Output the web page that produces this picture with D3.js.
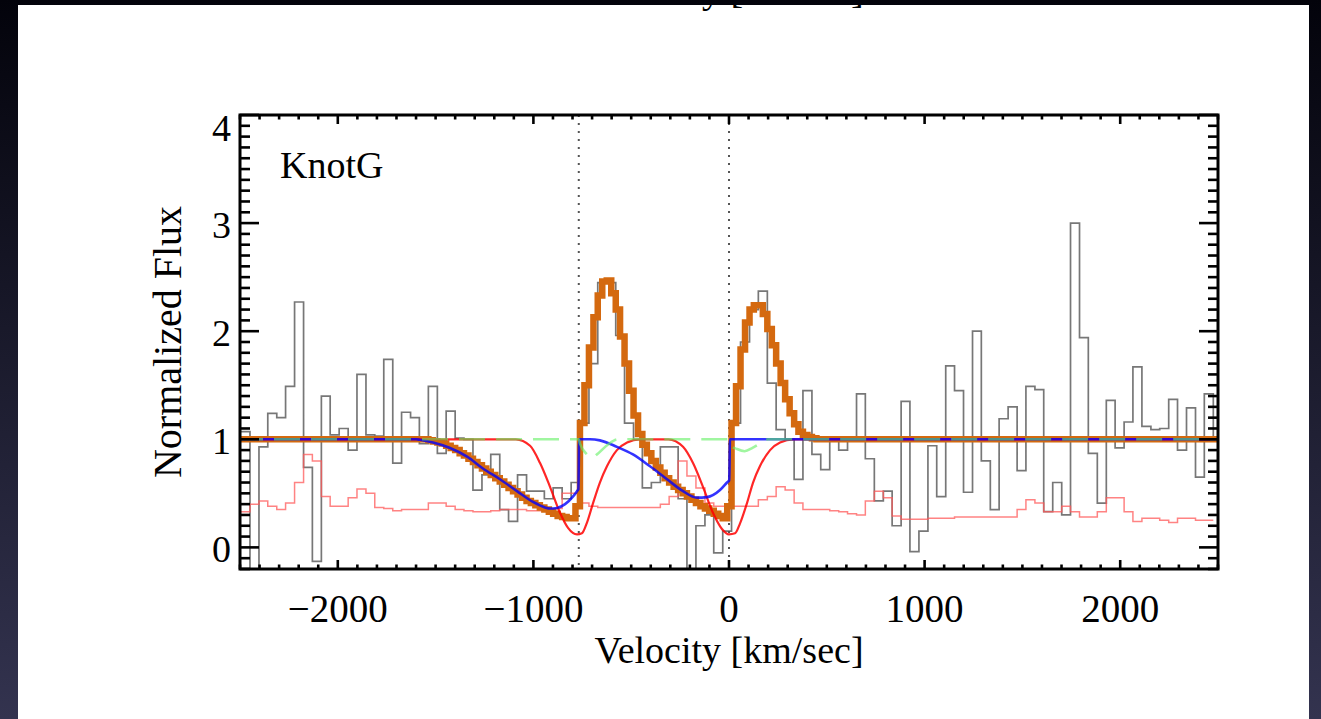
<!DOCTYPE html>
<html>
<head>
<meta charset="utf-8">
<script src="https://cdn.jsdelivr.net/npm/d3@7"></script>
<style>
  html, body { margin: 0; padding: 0; background: #000; }
  svg { display: block; }
  text { font-family: "Liberation Serif", "Times New Roman", serif; fill: #000; }
</style>
</head>
<body>
<svg id="chart" width="1321" height="719"></svg>
<script>
// ---------------- data ----------------
// Observed spectrum: bin edges (km/s) and normalized flux per bin
const binEdges = [-2495,-2449,-2403,-2358,-2312,-2267,-2221,-2175,-2130,-2084,-2039,
  -1993,-1947,-1902,-1856,-1811,-1765,-1719,-1674,-1628,-1583,-1537,-1491,-1446,-1400,
  -1355,-1309,-1263,-1218,-1172,-1127,-1081,-1035,-990,-944,-899,-853,-807,-762,-716,
  -671,-625,-579,-534,-488,-443,-397,-351,-306,-260,-215,-169,-123,-78,-32,13,59,105,
  150,196,241,287,333,378,424,469,515,561,606,652,697,743,789,834,880,925,971,1017,
  1062,1108,1153,1199,1245,1290,1336,1381,1427,1473,1518,1564,1609,1655,1701,1746,
  1792,1837,1883,1929,1974,2020,2065,2111,2157,2202,2248,2293,2339,2385,2430,2476,2521];

const fluxObs = [1.07,-0.25,0.93,1.24,1.20,1.49,2.27,0.74,-0.13,1.40,1.04,
  1.10,0.90,1.60,1.04,1.03,1.74,0.78,1.25,1.20,0.96,1.49,
  0.87,1.26,1.01,1.00,0.53,0.67,0.86,0.35,0.24,0.67,0.52,0.52,0.45,0.55,0.45,0.60,
  1.15,1.70,2.45,2.45,1.96,1.15,1.00,0.55,0.60,0.93,0.93,0.45,-0.30,0.20,0.30,-0.05,0.15,
  1.15,1.90,2.20,2.37,1.52,1.09,1.00,0.63,
  1.45,0.86,0.72,1.00,0.90,1.00,1.42,0.82,0.43,0.52,0.20,1.35,-0.04,0.15,0.94,0.47,
  1.68,1.45,0.51,2.00,0.80,0.35,1.19,1.30,0.71,1.49,1.46,0.33,0.60,0.30,3.00,1.94,
  0.87,0.41,1.36,0.92,1.16,1.67,1.12,1.09,1.10,1.37,0.90,1.29,0.65,1.42,1.00];

// 1-sigma error spectrum on the same bins
const fluxErr = [0.33,0.40,0.43,0.38,0.35,0.41,0.60,0.86,0.80,0.47,0.38,
  0.38,0.46,0.54,0.50,0.37,0.36,0.34,0.35,0.35,0.35,0.41,
  0.41,0.38,0.35,0.34,0.33,0.33,0.34,0.35,0.35,0.35,0.34,0.34,0.35,0.36,0.50,0.50,
  0.41,0.38,0.37,0.37,0.37,0.37,0.37,0.37,0.37,0.40,0.47,0.80,0.66,0.55,0.41,0.38,0.38,
  0.38,0.38,0.38,0.44,0.47,0.56,0.53,
  0.41,0.35,0.35,0.35,0.34,0.33,0.31,0.30,0.43,0.52,0.46,0.29,0.26,0.26,0.26,0.27,
  0.27,0.27,0.28,0.28,0.28,0.28,0.28,0.28,0.28,0.35,0.44,0.41,0.33,0.33,0.38,0.33,
  0.28,0.28,0.33,0.46,0.46,0.33,0.24,0.27,0.27,0.25,0.23,0.27,0.27,0.25,0.25];

// Total model (emission + absorption), sampled at half-bin steps
const modelVel = [-2500,-1628,-1605,-1583,-1560,-1537,-1514,-1491,-1469,-1446,-1423,-1400,
  -1377,-1355,-1332,-1309,-1286,-1263,-1241,-1218,-1195,-1172,-1149,-1127,-1104,-1081,
  -1058,-1035,-1013,-990,-967,-944,-921,-899,-876,-853,-830,-807,-785,-762,-739,-716,
  -693,-671,-648,-625,-602,-579,-557,-534,-511,-488,-465,-443,-420,-397,-374,-351,-329,
  -306,-283,-260,-237,-215,-192,-169,-146,-123,-101,-78,-55,-32,-9,13,36,59,82,105,127,
  150,173,196,219,241,264,287,310,333,355,378,401,424,447,469,2500];
const modelFlux = [1.00,1.00,1.00,1.00,1.00,0.99,0.98,0.97,0.96,0.94,0.92,0.90,
  0.87,0.85,0.82,0.79,0.76,0.73,0.70,0.67,0.64,0.61,0.58,0.55,0.52,0.49,
  0.46,0.43,0.41,0.39,0.37,0.35,0.33,0.31,0.29,0.28,0.27,0.27,0.38,1.15,1.50,1.85,
  2.13,2.33,2.46,2.47,2.35,2.20,1.95,1.70,1.45,1.22,1.05,0.95,0.87,0.80,0.74,0.69,0.64,
  0.60,0.56,0.53,0.50,0.47,0.44,0.41,0.38,0.36,0.34,0.31,0.29,0.27,0.38,1.15,1.49,1.83,2.08,2.20,2.24,
  2.24,2.16,2.02,1.87,1.70,1.52,1.37,1.24,1.14,1.07,1.04,1.02,1.01,1.00,1.00,1.00];

// Outflow absorption component
const outflowVel  = [-2500,-1600,-1580,-1513,-1426,-1339,-1258,-1171,-1084,-1002,-941,-915,-879,-838,-798,-777,-770,
  -766,-711,-660,-573,-491,-404,-317,-235,-164,-112,-46,-10,1,5,2500];
const outflowFlux = [1,1,0.995,0.97,0.92,0.84,0.73,0.63,0.52,0.42,0.37,0.36,0.365,0.40,0.47,0.52,0.54,
  1,1,0.99,0.93,0.86,0.75,0.63,0.52,0.46,0.465,0.53,0.60,0.62,1,1];

// Systemic absorption doublet
const systemicVel  = [-2500,-1090,-1017,-966,-915,-864,-823,-777,-752,-726,-695,-660,-624,-573,-521,-455,
  -310,-235,-184,-133,-82,-36,0,31,56,92,123,158,210,261,330,2500];
const systemicFlux = [1,1,0.94,0.78,0.56,0.32,0.18,0.12,0.13,0.23,0.41,0.60,0.75,0.90,0.97,1,
  1,0.93,0.78,0.56,0.32,0.17,0.12,0.13,0.22,0.41,0.60,0.75,0.90,0.97,1,1];

// Infilling component
const infillVel  = [-2500,-768,-762,-726,-700,-675,-620,-568,-2,3,41,80,120,158,200,2500];
const infillFlux = [1,1,0.96,0.86,0.83,0.86,0.95,1,1,0.95,0.91,0.89,0.92,0.96,1,1];

// Rest velocities of the doublet lines
const lineCenters = [-768, 0];

// Axis ticks and labels
const velMajor = [-2000, -1000, 0, 1000, 2000];
const fluxMajor = [0, 1, 2, 3, 4];
const panelLabel = "KnotG";
const xTitle = "Velocity [km/sec]";
const yTitle = "Normalized Flux";

// ---------------- layout ----------------
const W = 1321, H = 719;
const plot = { left: 240, right: 1218, top: 115, bottom: 569 };

const svg = d3.select("#chart");
const defs = svg.append("defs");

const grad = defs.append("linearGradient").attr("id", "bgGrad")
  .attr("x1", 0).attr("y1", 0).attr("x2", 0).attr("y2", 1);
grad.append("stop").attr("offset", "0%").attr("stop-color", "#03030b");
grad.append("stop").attr("offset", "100%").attr("stop-color", "#33334f");
svg.append("rect").attr("width", W).attr("height", H).attr("fill", "url(#bgGrad)");

// white slide panel
const panel = { x: 18, y: 5, w: 1291, h: 714 };
defs.append("clipPath").attr("id", "panelClip").append("rect")
  .attr("x", panel.x).attr("y", panel.y).attr("width", panel.w).attr("height", panel.h);
svg.append("rect").attr("x", panel.x).attr("y", panel.y)
  .attr("width", panel.w).attr("height", panel.h).attr("fill", "#fff");

const page = svg.append("g").attr("clip-path", "url(#panelClip)");

// axis title of the panel above; only its descenders reach into the slide
page.append("text").attr("x", 729).attr("y", 3).attr("text-anchor", "middle")
  .attr("font-size", 38).text(xTitle);

defs.append("clipPath").attr("id", "plotClip").append("rect")
  .attr("x", plot.left).attr("y", plot.top)
  .attr("width", plot.right - plot.left).attr("height", plot.bottom - plot.top);

const x = d3.scaleLinear().domain([-2500, 2500]).range([plot.left, plot.right]);
const y = d3.scaleLinear().domain([-0.2, 4]).range([plot.bottom, plot.top]);

const data = page.append("g").attr("clip-path", "url(#plotClip)");

// dotted markers at the doublet rest velocities
data.selectAll("line.rest").data(lineCenters).join("line")
  .attr("class", "rest")
  .attr("x1", d => x(d)).attr("x2", d => x(d))
  .attr("y1", plot.top).attr("y2", plot.bottom)
  .attr("stroke", "#555").attr("stroke-width", 2)
  .attr("stroke-dasharray", "2 6");

const stepLine = d3.line().x(d => x(d[0])).y(d => y(d[1])).curve(d3.curveStepAfter);
const smoothLine = d3.line().x(d => x(d[0])).y(d => y(d[1])).curve(d3.curveMonotoneX);

function histPoints(edges, vals) {
  const pts = vals.map((v, i) => [edges[i], v]);
  pts.push([edges[vals.length], vals[vals.length - 1]]);
  return pts;
}
const pairs = (xs, ys) => xs.map((v, i) => [v, ys[i]]);

// observed spectrum
data.append("path").datum(histPoints(binEdges, fluxObs))
  .attr("d", stepLine).attr("fill", "none")
  .attr("stroke", "#555").attr("stroke-opacity", 0.8).attr("stroke-width", 1.7);

// error spectrum
data.append("path").datum(histPoints(binEdges, fluxErr))
  .attr("d", stepLine).attr("fill", "none")
  .attr("stroke", "#ff5a5a").attr("stroke-opacity", 0.75).attr("stroke-width", 1.5);

// total model
data.append("path").datum(pairs(modelVel, modelFlux))
  .attr("d", stepLine).attr("fill", "none")
  .attr("stroke", "#d4690f").attr("stroke-width", 6.5)
  .attr("stroke-linejoin", "miter");

// systemic absorption
data.append("path").datum(pairs(systemicVel, systemicFlux))
  .attr("d", smoothLine).attr("fill", "none")
  .attr("stroke", "#ff0000").attr("stroke-opacity", 0.85).attr("stroke-width", 2.2);

// outflow absorption
data.append("path").datum(pairs(outflowVel, outflowFlux))
  .attr("d", smoothLine).attr("fill", "none")
  .attr("stroke", "#0000ff").attr("stroke-opacity", 0.8).attr("stroke-width", 2.6);

// infilling component
data.append("path").datum(pairs(infillVel, infillFlux))
  .attr("d", smoothLine).attr("fill", "none")
  .attr("stroke", "#60f060").attr("stroke-opacity", 0.6).attr("stroke-width", 2.6)
  .attr("stroke-dasharray", "26 11").attr("stroke-dashoffset", 3);

// ---------------- axes ----------------
const axes = page.append("g");
const tickStroke = 2.6;

const velMinor = d3.range(-2500, 2501, 100).filter(v => !velMajor.includes(v));
const fluxMinor = d3.range(-2, 41, 1).map(v => v / 10).filter(v => !fluxMajor.includes(v));

function tickLines(vals, len, horizontalAxis, base, dir) {
  axes.selectAll(null).data(vals).join("line")
    .attr("x1", d => horizontalAxis ? x(d) : base)
    .attr("x2", d => horizontalAxis ? x(d) : base + dir * len)
    .attr("y1", d => horizontalAxis ? base : y(d))
    .attr("y2", d => horizontalAxis ? base + dir * len : y(d))
    .attr("stroke", "#000").attr("stroke-width", tickStroke);
}
// bottom and top
tickLines(velMajor, 9, true, plot.bottom, -1);
tickLines(velMinor, 4.5, true, plot.bottom, -1);
tickLines(velMajor, 9, true, plot.top, 1);
tickLines(velMinor, 4.5, true, plot.top, 1);
// left and right
tickLines(fluxMajor, 19, false, plot.left, 1);
tickLines(fluxMinor, 10, false, plot.left, 1);
tickLines(fluxMajor, 19, false, plot.right, -1);
tickLines(fluxMinor, 10, false, plot.right, -1);

axes.append("rect")
  .attr("x", plot.left).attr("y", plot.top)
  .attr("width", plot.right - plot.left).attr("height", plot.bottom - plot.top)
  .attr("fill", "none").attr("stroke", "#000").attr("stroke-width", 3);

// tick labels
const fmt = v => (v < 0 ? "\u2212" + Math.abs(v) : String(v));
axes.selectAll("text.xl").data(velMajor).join("text")
  .attr("class", "xl")
  .attr("x", d => x(d)).attr("y", 622)
  .attr("text-anchor", "middle").attr("font-size", 39)
  .text(fmt);

axes.selectAll("text.yl").data(fluxMajor).join("text")
  .attr("class", "yl")
  .attr("x", plot.left - 9)
  .attr("y", d => Math.max(y(d) + 15, plot.top + 26))
  .attr("text-anchor", "end").attr("font-size", 38)
  .text(d => String(d));

// titles
axes.append("text").attr("x", (plot.left + plot.right) / 2).attr("y", 663)
  .attr("text-anchor", "middle").attr("font-size", 38).text(xTitle);

axes.append("text")
  .attr("transform", `translate(181,${(plot.top + plot.bottom) / 2}) rotate(-90)`)
  .attr("text-anchor", "middle").attr("font-size", 40).text(yTitle);

axes.append("text").attr("x", 280).attr("y", 178)
  .attr("font-size", 38).text(panelLabel);
</script>
</body>
</html>
